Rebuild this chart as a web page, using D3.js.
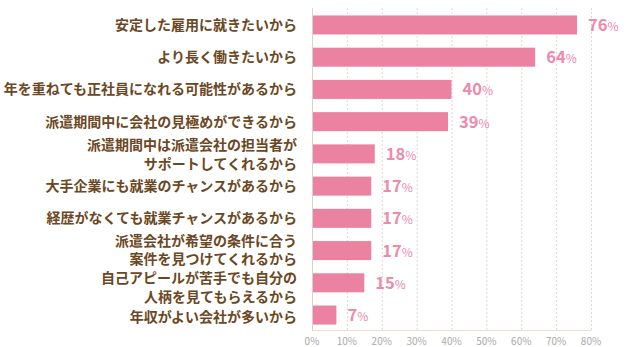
<!DOCTYPE html>
<html><head><meta charset="utf-8">
<script src="https://cdn.jsdelivr.net/npm/d3@7"></script>
<style>body{margin:0;background:#fff}svg{display:block}</style>
</head><body>
<script>
const categories = [
  ["安定した雇用に就きたいから"],
  ["より長く働きたいから"],
  ["年を重ねても正社員になれる可能性があるから"],
  ["派遣期間中に会社の見極めができるから"],
  ["派遣期間中は派遣会社の担当者が","サポートしてくれるから"],
  ["大手企業にも就業のチャンスがあるから"],
  ["経歴がなくても就業チャンスがあるから"],
  ["派遣会社が希望の条件に合う","案件を見つけてくれるから"],
  ["自己アピールが苦手でも自分の","人柄を見てもらえるから"],
  ["年収がよい会社が多いから"]
];
const values = [76, 64, 40, 39, 18, 17, 17, 17, 15, 7];
const ticks = [0,10,20,30,40,50,60,70,80];

const W=630,H=347;
const svg=d3.select("body").append("svg").attr("width",W).attr("height",H);
const font='"Noto Sans CJK JP","Noto Sans",sans-serif';
const x=d3.scaleLinear().domain([0,80]).range([312,591]);
const y=d3.scaleBand().domain(d3.range(values.length)).range([9,331]).paddingInner(0.41).paddingOuter(0.2);

// grid
svg.append("g").selectAll("line").data(ticks.slice(1)).join("line")
  .attr("x1",d=>x(d)+0.5).attr("x2",d=>x(d)+0.5).attr("y1",8).attr("y2",330)
  .attr("stroke","#e2d6ca").attr("stroke-dasharray","2,2");
// axis lines
svg.append("line").attr("x1",312).attr("x2",591).attr("y1",330.5).attr("y2",330.5).attr("stroke","#ecdfd2");
svg.append("line").attr("x1",312.5).attr("x2",312.5).attr("y1",8).attr("y2",331).attr("stroke","#d8d2cc");

// bars
svg.append("g").selectAll("rect").data(values).join("rect")
  .attr("x",x(0)+1).attr("y",(d,i)=>y(i)).attr("height",y.bandwidth())
  .attr("width",d=>x(d)-x(0)-1).attr("fill","#eb82a1");

// value labels
const vl=svg.append("g").selectAll("text").data(values).join("text")
  .attr("x",d=>x(d)+11).attr("y",(d,i)=>y(i)+y.bandwidth()/2+6)
  .attr("fill","#ee8aa9").attr("font-family",font).attr("font-weight","bold").attr("font-size",16.5);
vl.append("tspan").text(d=>d);
vl.append("tspan").attr("font-size",12).attr("font-weight","normal").text("%");

// category labels
const shift = i => (i===8 ? 4 : (i===7 ? -1 : (i===9 ? 1.5 : 0)));
const cl=svg.append("g").selectAll("text").data(categories).join("text")
  .attr("x",297).attr("text-anchor","end").attr("fill","#6b4823")
  .attr("font-family",font).attr("font-weight","bold").attr("font-size",14);
cl.each(function(lines,i){
  const cy=y(i)+y.bandwidth()/2+shift(i);
  const t=d3.select(this);
  lines.forEach((l,j)=>{
    const off=(j-(lines.length-1)/2)*18.5+(lines.length>1?0.5:0);
    t.append("tspan").attr("x",297).attr("y",cy+off+5).text(l);
  });
});

// tick labels
svg.append("g").selectAll("text").data(ticks).join("text")
  .attr("x",d=>x(d)).attr("y",345).attr("text-anchor","middle")
  .attr("fill","#aaaaaa").attr("font-family",font).attr("font-size",10)
  .text(d=>d+"%");
</script>
</body></html>
